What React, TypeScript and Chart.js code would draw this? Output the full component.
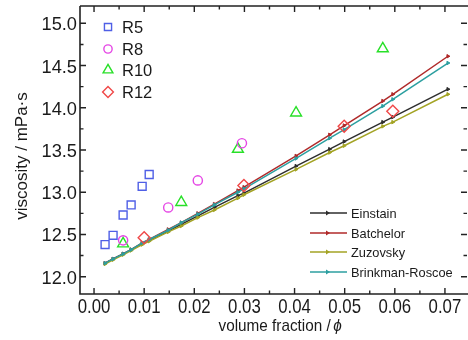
import { useEffect, useRef } from "react";
import { Chart, registerables } from "chart.js";
Chart.register(...registerables);

// Experimental data (volume fraction, viscosity mPa·s)
const phiR5 = [0.0022, 0.0038, 0.0058, 0.0074, 0.0096, 0.011];
const etaR5 = [12.38, 12.49, 12.73, 12.85, 13.07, 13.21];
const phiR8 = [0.0058, 0.0148, 0.0207, 0.0295];
const etaR8 = [12.43, 12.82, 13.14, 13.58];
const phiR10 = [0.0058, 0.0174, 0.0287, 0.0403, 0.0576];
const etaR10 = [12.39, 12.88, 13.51, 13.94, 14.7];
const phiR12 = [0.01, 0.0299, 0.0499, 0.0596];
const etaR12 = [12.46, 13.08, 13.78, 13.96];

// Model curves
const phiModel = [0.0022, 0.0038, 0.0058, 0.0074, 0.0096, 0.011, 0.0148, 0.0174, 0.0207, 0.024, 0.0287, 0.0299, 0.0403, 0.047, 0.0499, 0.0576, 0.0596, 0.0706];
const etaEinstein = [12.16, 12.21, 12.27, 12.32, 12.39, 12.43, 12.54, 12.62, 12.72, 12.82, 12.96, 12.99, 13.31, 13.51, 13.6, 13.83, 13.89, 14.22];
const etaBatchelor = [12.16, 12.21, 12.27, 12.32, 12.4, 12.44, 12.56, 12.64, 12.75, 12.86, 13.02, 13.06, 13.43, 13.68, 13.79, 14.08, 14.16, 14.61];
const etaZuzovsky = [12.15, 12.2, 12.26, 12.31, 12.38, 12.42, 12.53, 12.6, 12.7, 12.79, 12.93, 12.97, 13.27, 13.47, 13.55, 13.78, 13.83, 14.16];
const etaBrinkman = [12.16, 12.21, 12.27, 12.32, 12.4, 12.44, 12.55, 12.64, 12.74, 12.85, 13.0, 13.04, 13.4, 13.64, 13.74, 14.02, 14.1, 14.53];

const xTicks = [0.0, 0.01, 0.02, 0.03, 0.04, 0.05, 0.06, 0.07];
const yTicks = [12.0, 12.5, 13.0, 13.5, 14.0, 14.5, 15.0];

const expSeries = [
  { label: "R5", phi: phiR5, eta: etaR5, color: "#4f5fe6", style: "rect", r: 5.6 },
  { label: "R8", phi: phiR8, eta: etaR8, color: "#e546e5", style: "circle", r: 4.6 },
  { label: "R10", phi: phiR10, eta: etaR10, color: "#28e028", style: "triangle", r: 6.3 },
  { label: "R12", phi: phiR12, eta: etaR12, color: "#f04848", style: "rectRot", r: 6 },
];
const modelSeries = [
  { label: "Einstain", eta: etaEinstein, color: "#2e2e2e" },
  { label: "Batchelor", eta: etaBatchelor, color: "#b02a2a" },
  { label: "Zuzovsky", eta: etaZuzovsky, color: "#a3a324" },
  { label: "Brinkman-Roscoe", eta: etaBrinkman, color: "#2c9fa0" },
];

const FONT = "'Liberation Sans', Arial, sans-serif";
const AXIS = "#222";

function drawText(ctx: CanvasRenderingContext2D, text: string, x: number, y: number, font: string, sx: number, align: CanvasTextAlign) {
  ctx.save();
  ctx.font = font;
  ctx.textAlign = align;
  ctx.textBaseline = "alphabetic";
  ctx.translate(x, y);
  ctx.scale(sx, 1);
  ctx.fillText(text, 0, 0);
  ctx.restore();
}

function drawMarker(ctx: CanvasRenderingContext2D, style: string, r: number, x: number, y: number, color: string) {
  ctx.save();
  ctx.strokeStyle = color;
  ctx.lineWidth = 1.4;
  ctx.beginPath();
  if (style === "rect") {
    const s = r * Math.SQRT1_2;
    ctx.rect(x - s, y - s, 2 * s, 2 * s);
  } else if (style === "circle") {
    ctx.arc(x, y, r, 0, Math.PI * 2);
  } else if (style === "triangle") {
    ctx.moveTo(x, y - r);
    ctx.lineTo(x + r * Math.sin(Math.PI / 3), y + r / 2);
    ctx.lineTo(x - r * Math.sin(Math.PI / 3), y + r / 2);
    ctx.closePath();
  } else {
    ctx.moveTo(x, y - r);
    ctx.lineTo(x + r, y);
    ctx.lineTo(x, y + r);
    ctx.lineTo(x - r, y);
    ctx.closePath();
  }
  ctx.stroke();
  ctx.restore();
}

const framePlugin = {
  id: "frame",
  afterDraw(chart: any) {
    const ctx: CanvasRenderingContext2D = chart.ctx;
    const { left, right, top, bottom } = chart.chartArea;
    const xs = chart.scales.x;
    const ys = chart.scales.y;
    ctx.save();
    ctx.strokeStyle = AXIS;
    ctx.fillStyle = "#1a1a1a";
    ctx.lineWidth = 1.6;
    ctx.beginPath();
    ctx.moveTo(left, top);
    ctx.lineTo(left, bottom);
    ctx.lineTo(right, bottom);
    ctx.moveTo(left, top);
    ctx.lineTo(right, top);
    ctx.stroke();

    ctx.lineWidth = 1.4;
    const xMinor = xTicks.map((v) => v + 0.005);
    const yMinor = yTicks.map((v) => v + 0.25);
    ctx.beginPath();
    const tickX = (v: number, len: number) => {
      const px = xs.getPixelForValue(v);
      if (px < left || px > right) return;
      ctx.moveTo(px, bottom);
      ctx.lineTo(px, bottom - len);
      ctx.moveTo(px, top);
      ctx.lineTo(px, top + len);
    };
    const tickY = (v: number, len: number) => {
      const py = ys.getPixelForValue(v);
      if (py < top || py > bottom) return;
      ctx.moveTo(left, py);
      ctx.lineTo(left + len, py);
      ctx.moveTo(right - 1, py);
      ctx.lineTo(right - 1 - len, py);
    };
    xTicks.forEach((v) => tickX(v, 6));
    xMinor.forEach((v) => tickX(v, 3.5));
    yTicks.forEach((v) => tickY(v, 6));
    yMinor.forEach((v) => tickY(v, 3.5));
    ctx.stroke();

    // tick labels
    xTicks.forEach((v) => {
      drawText(ctx, v.toFixed(2), xs.getPixelForValue(v), bottom + 19, `21px ${FONT}`, 0.8, "center");
    });
    yTicks.forEach((v) => {
      drawText(ctx, v.toFixed(1), left - 3, ys.getPixelForValue(v) + 7, `19px ${FONT}`, 0.96, "right");
    });

    // axis titles
    ctx.save();
    ctx.translate(27, (top + bottom) / 2 + 6);
    ctx.rotate(-Math.PI / 2);
    ctx.font = `17px ${FONT}`;
    ctx.textAlign = "center";
    ctx.textBaseline = "alphabetic";
    ctx.fillText("viscosity / mPa·s", 0, 0);
    ctx.restore();

    ctx.save();
    const t1 = "volume fraction /";
    const t2 = "\u03d5";
    ctx.font = `17px ${FONT}`;
    const w1 = ctx.measureText(t1 + " ").width;
    ctx.font = `italic 17px ${FONT}`;
    const w2 = ctx.measureText(t2).width;
    const sx = 0.9;
    const cx = 281;
    const startX = cx - ((w1 + w2) * sx) / 2;
    ctx.translate(startX, 331);
    ctx.scale(sx, 1);
    ctx.textAlign = "left";
    ctx.font = `17px ${FONT}`;
    ctx.fillText(t1, 0, 0);
    ctx.font = `italic 17px ${FONT}`;
    ctx.fillText(t2, w1 - 2, 0);
    ctx.restore();

    // legend 1 (experimental)
    const rows1 = [27, 49, 70, 92];
    expSeries.forEach((s, i) => {
      drawMarker(ctx, s.style, s.r * 0.9, 108, rows1[i], s.color);
      drawText(ctx, s.label, 122, rows1[i] + 6, `16.5px ${FONT}`, 1, "left");
    });

    // legend 2 (models)
    const rows2 = [213, 233, 252, 272];
    modelSeries.forEach((s, i) => {
      ctx.save();
      ctx.strokeStyle = s.color;
      ctx.fillStyle = s.color;
      ctx.lineWidth = 1.6;
      ctx.beginPath();
      ctx.moveTo(310, rows2[i]);
      ctx.lineTo(347, rows2[i]);
      ctx.stroke();
      ctx.beginPath();
      ctx.moveTo(330, rows2[i]);
      ctx.lineTo(326, rows2[i] - 2.5);
      ctx.lineTo(326, rows2[i] + 2.5);
      ctx.closePath();
      ctx.fill();
      ctx.restore();
      drawText(ctx, s.label, 351, rows2[i] + 4.5, `12.8px ${FONT}`, 1, "left");
    });
    ctx.restore();
  },
};

export default function App() {
  const ref = useRef<HTMLCanvasElement>(null);
  useEffect(() => {
    if (!ref.current) return;
    const datasets: any[] = [];
    expSeries.forEach((s) => {
      datasets.push({
        label: s.label,
        data: s.phi.map((p, i) => ({ x: p, y: s.eta[i] })),
        showLine: false,
        pointStyle: s.style,
        pointRadius: s.r,
        pointBorderColor: s.color,
        pointBackgroundColor: "rgba(0,0,0,0)",
        pointBorderWidth: 1.4,
        order: 0,
      });
    });
    modelSeries.forEach((s, k) => {
      datasets.push({
        label: s.label,
        data: phiModel.map((p, i) => ({ x: p, y: s.eta[i] })),
        showLine: true,
        borderColor: s.color,
        borderWidth: 1.5,
        pointStyle: "triangle",
        pointRotation: 90,
        pointRadius: 2,
        pointBorderWidth: 1,
        pointBorderColor: s.color,
        pointBackgroundColor: s.color,
        order: 4 - k,
      });
    });
    const chart = new Chart(ref.current, {
      type: "scatter",
      data: { datasets },
      options: {
        animation: false,
        responsive: false,
        maintainAspectRatio: false,
        layout: { autoPadding: false, padding: { top: 6, right: 0, left: 0, bottom: 0 } },
        plugins: { legend: { display: false }, tooltip: { enabled: false } },
        scales: {
          x: {
            type: "linear",
            min: -0.0028,
            max: 0.0746,
            grid: { display: false },
            border: { display: false },
            ticks: { display: false },
            afterFit: (s: any) => {
              s.height = 46;
            },
          },
          y: {
            type: "linear",
            min: 11.795,
            max: 15.205,
            grid: { display: false },
            border: { display: false },
            ticks: { display: false },
            afterFit: (s: any) => {
              s.width = 80;
            },
          },
        },
      },
      plugins: [framePlugin],
    });
    return () => chart.destroy();
  }, []);
  return (
    <div style={{ position: "absolute", left: 0, top: 0, width: 468, height: 340, background: "#fff" }}>
      <canvas ref={ref} width={468} height={340} />
    </div>
  );
}
